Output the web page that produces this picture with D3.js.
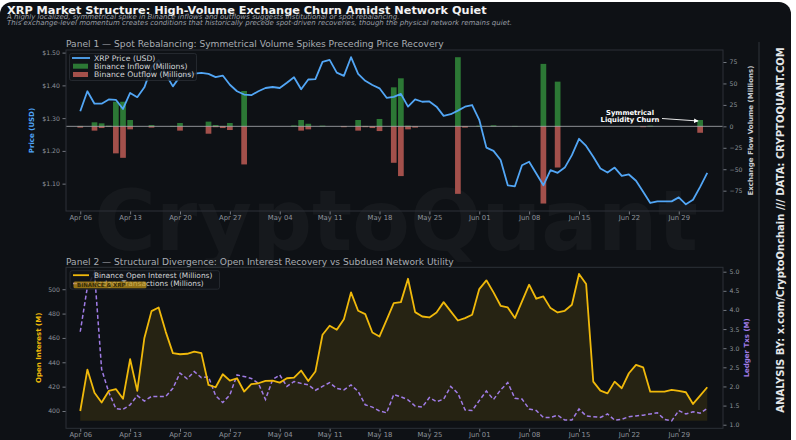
<!DOCTYPE html>
<head>
<meta charset="utf-8">
<style>
  body { margin: 0; background: #ffffff; }
  svg text { font-family: "DejaVu Sans", sans-serif; }
  svg .tick text { fill: #8d929a; font-size: 6.2px; }
  svg .x-axis .tick text { font-size: 6.8px; }
  svg .tick line { stroke: #8d929a; stroke-width: 0.8px; }
  svg .domain { display: none; }
  svg .spine { fill: none; stroke: #2c3138; stroke-width: 1px; }
</style>
</head>
<body>
<script src="https://d3js.org/d3.v7.min.js"></script>
<script>
// ---- data (daily, from Apr 06) ----
var startDay = "2025-04-06";

var price = [1.321, 1.382, 1.344, 1.344, 1.357, 1.356, 1.328, 1.377, 1.364, 1.394,
  1.455, 1.477, 1.434, 1.397, 1.427, 1.432, 1.436, 1.438, 1.435, 1.425,
  1.430, 1.402, 1.382, 1.372, 1.370, 1.382, 1.392, 1.395, 1.392, 1.408,
  1.425, 1.388, 1.418, 1.419, 1.472, 1.478, 1.439, 1.429, 1.486, 1.435,
  1.414, 1.401, 1.391, 1.362, 1.365, 1.374, 1.335, 1.357, 1.350, 1.351,
  1.335, 1.307, 1.312, 1.323, 1.335, 1.340, 1.295, 1.210, 1.200, 1.172,
  1.095, 1.092, 1.156, 1.167, 1.131, 1.095, 1.141, 1.133, 1.149, 1.187,
  1.237, 1.215, 1.182, 1.146, 1.134, 1.149, 1.124, 1.128, 1.109, 1.075,
  1.041, 1.046, 1.046, 1.046, 1.058, 1.037, 1.051, 1.090, 1.133];

var inflow = [0.5, 0, 4.7, 3.5, 0.8, 28.7, 28.7, 7.4, 0, 0,
  1.5, 0, 0, 0.5, 3.9, 0, 0, 0, 5.5, 1.5,
  0.5, 3.9, 0, 41.2, 0, 0, 0, 0, 0, 0,
  1, 7.4, 3, 0, 0.8, 0, 0, 0.3, 0, 7.4,
  0.5, 0.3, 8.6, 0, 45.5, 56, 0.8, 0.3, 0, 0,
  0, 0, 0, 80.6, 0.3, 0, 0.8, 0, 1.2, 0,
  0, 0.5, 0, 0, 0, 72.8, 0, 52.1, 0, 0,
  0, 0, 0, 0, 0, 0, 0, 0, 0, 0,
  0.8, 0, 0, 0, 0, 0, 0, 7.4, 0];

var outflow = [-1.5, 0, -5, -2, -0.5, -31.5, -36.7, -3.5, 0, 0,
  -1.5, 0, 0, 0, -5, 0, 0, 0, -8.6, -1,
  -2, -4.3, 0, -44.4, 0, 0, 0, 0, 0, 0,
  0, -5, -3.5, 0, 0, 0, 0, -1, 0, -5,
  -1, -2, -5.5, 0, -42.5, -58, -3.5, -1.5, 0, 0,
  0, 0, 0, -78.7, -1.5, 0, 0, 0, 0, 0,
  0, 0, 0, 0, 0, -90, 0, -48, 0, 0,
  0, 0, 0, 0, 0, 0, 0, 0, 0, -1,
  0, 0, 0, 0, 0, 0, 0, -7.5, 0];

var openInterest = [400, 434, 415, 407, 416.5, 418, 410, 442.5, 416.5, 460,
  482, 485, 465, 447.5, 446.6, 447, 448.8, 447.5, 421.4, 419.5,
  430.2, 425, 426.9, 416, 422, 422.8, 424.7, 425, 423.3, 426.9,
  427.4, 433.2, 424.7, 432.4, 462.6, 470, 466.7, 475.4, 497.4, 482.3,
  479.6, 464.5, 461.2, 474.9, 488.6, 489.4, 508.6, 481.2, 477.6, 476.8,
  480.9, 489.4, 481.8, 474.3, 476.3, 479, 500.1, 507.3, 497.4, 486.4,
  485, 476.3, 490, 503.7, 492.2, 494.1, 484.5, 480.9, 482.3, 487.2,
  512.5, 504.3, 424.1, 416.7, 414.5, 424.1, 418.7, 431, 437.9, 435.9,
  415.9, 415.9, 415.9, 417.3, 416.5, 415.4, 405.8, 412.6, 419.5];
var oiFloor = 392;

var ledgerTxs = [3.43, 4.60, 4.98, 2.45, 1.85, 1.42, 1.40, 1.52, 1.76, 1.62,
  1.74, 1.74, 1.74, 1.95, 2.35, 2.20, 2.39, 2.23, 2.25, 1.76,
  1.58, 1.78, 2.30, 2.26, 2.21, 2.08, 1.66, 2.18, 2.30, 2.00,
  2.13, 2.08, 2.04, 1.90, 2.00, 2.10, 1.95, 1.91, 2.04, 1.87,
  1.52, 1.46, 1.36, 1.31, 1.79, 1.73, 1.65, 1.49, 1.46, 1.71,
  1.60, 1.67, 2.00, 1.82, 1.39, 1.37, 1.63, 1.88, 1.66, 1.91,
  2.10, 1.69, 1.67, 1.41, 1.37, 1.19, 1.19, 1.25, 1.12, 1.12,
  1.41, 1.23, 1.21, 1.19, 1.28, 1.12, 1.14, 1.21, 1.23, 1.25,
  1.28, 1.31, 1.14, 1.10, 1.37, 1.28, 1.34, 1.30, 1.43];

var priceTicks = [1.10, 1.20, 1.30, 1.40, 1.50];
var flowTicks = [-75, -50, -25, 0, 25, 50, 75];
var oiTicks = [400, 420, 440, 460, 480, 500];
var txTicks = [1.0, 1.5, 2.0, 2.5, 3.0, 3.5, 4.0, 4.5, 5.0];

// ---- layout ----
var W = 796, H = 440;
var p1 = { left: 66, right: 723, top: 50, bottom: 211 };
var p2 = { left: 66, right: 723, top: 267.3, bottom: 428.3 };
var bg = "#0e1115";

var t0 = d3.utcParse("%Y-%m-%d")(startDay);
var days = price.map(function (d, i) { return d3.utcDay.offset(t0, i); });

var svg = d3.select("body").append("svg")
    .attr("width", W).attr("height", H);

svg.append("rect")
    .attr("x", 0).attr("y", 2).attr("width", 791).attr("height", 452)
    .attr("rx", 12).attr("fill", bg);

// watermark
svg.append("text")
    .attr("x", 396).attr("y", 250)
    .attr("text-anchor", "middle")
    .style("font-size", "84px").style("font-weight", "bold")
    .style("fill", "#ffffff").style("opacity", 0.03)
    .text("CryptoQuant");

// titles
svg.append("text").attr("x", 7).attr("y", 13.8)
    .style("font-size", "11.3px").style("font-weight", "bold").style("fill", "#f2f2f2")
    .text("XRP Market Structure: High-Volume Exchange Churn Amidst Network Quiet");
svg.append("text").attr("x", 7).attr("y", 19.2)
    .style("font-size", "7px").style("font-style", "italic").style("fill", "#9a9fa6")
    .text("A highly localized, symmetrical spike in Binance inflows and outflows suggests institutional or spot rebalancing.");
svg.append("text").attr("x", 7).attr("y", 25)
    .style("font-size", "7px").style("font-style", "italic").style("fill", "#9a9fa6")
    .text("This exchange-level momentum creates conditions that historically precede spot-driven recoveries, though the physical network remains quiet.");

// shared x scales
function makeX(p) {
  return d3.scaleUtc()
    .domain([d3.utcHour.offset(t0, -48), d3.utcHour.offset(t0, Math.round(90.2 * 24))])
    .range([p.left, p.right]);
}
var x1 = makeX(p1), x2 = makeX(p2);
var weekTicks = d3.utcSunday.range(t0, d3.utcDay.offset(t0, 89));
var dayW = x1(days[1]) - x1(days[0]);

// ================= Panel 1 =================
var yPrice = d3.scaleLinear().domain([1.0165, 1.508]).range([p1.bottom, p1.top]);
var yFlow = d3.scaleLinear().domain([-98.7, 89]).range([p1.bottom, p1.top]);

svg.append("text").attr("x", p1.left).attr("y", 47)
    .style("font-size", "9.1px").style("fill", "#a9adb3")
    .text("Panel 1 \u2014 Spot Rebalancing: Symmetrical Volume Spikes Preceding Price Recovery");

// bars
var g1 = svg.append("g");
g1.selectAll("rect.in").data(inflow).enter().append("rect")
    .attr("x", function (d, i) { return x1(days[i]) - dayW * 0.4; })
    .attr("width", dayW * 0.8)
    .attr("y", function (d) { return yFlow(d); })
    .attr("height", function (d) { return yFlow(0) - yFlow(d); })
    .attr("fill", "#2c7835");
g1.selectAll("rect.out").data(outflow).enter().append("rect")
    .attr("x", function (d, i) { return x1(days[i]) - dayW * 0.4; })
    .attr("width", dayW * 0.8)
    .attr("y", yFlow(0))
    .attr("height", function (d) { return yFlow(d) - yFlow(0); })
    .attr("fill", "#a3504b");

// zero line
g1.append("line")
    .attr("x1", p1.left).attr("x2", p1.right)
    .attr("y1", yFlow(0)).attr("y2", yFlow(0))
    .attr("stroke", "#b9bcc0").attr("stroke-width", 1).attr("opacity", 0.75);

// price line
var priceLine = d3.line()
    .x(function (d, i) { return x1(days[i]); })
    .y(function (d) { return yPrice(d); });
g1.append("path")
    .attr("d", priceLine(price))
    .attr("fill", "none").attr("stroke", "#52a6f5").attr("stroke-width", 1.8)
    .attr("stroke-linejoin", "round");

// axes
svg.append("g").attr("transform", "translate(" + p1.left + ",0)")
    .call(d3.axisLeft(yPrice).tickValues(priceTicks).tickSize(3.5).tickPadding(2.5)
      .tickFormat(function (d) { return "$" + d.toFixed(2); }));
svg.append("g").attr("transform", "translate(" + p1.right + ",0)")
    .call(d3.axisRight(yFlow).tickValues(flowTicks).tickSize(3.5).tickPadding(3)
      .tickFormat(function (d) { return d < 0 ? "\u2212" + Math.abs(d) : d; }));
svg.append("g").classed("x-axis", true).attr("transform", "translate(0," + p1.bottom + ")")
    .call(d3.axisBottom(x1).tickValues(weekTicks).tickSize(3.5).tickPadding(1)
      .tickFormat(d3.utcFormat("%b %d")));

svg.append("rect").classed("spine", true)
    .attr("x", p1.left).attr("y", p1.top)
    .attr("width", p1.right - p1.left).attr("height", p1.bottom - p1.top);

svg.append("text")
    .attr("transform", "translate(34," + (p1.top + p1.bottom) / 2 + ") rotate(-90)")
    .attr("text-anchor", "middle")
    .style("font-size", "7px").style("font-weight", "bold").style("fill", "#4fa3f7")
    .text("Price (USD)");
svg.append("text")
    .attr("transform", "translate(753," + (p1.top + p1.bottom) / 2 + ") rotate(-90)")
    .attr("text-anchor", "middle")
    .style("font-size", "7px").style("font-weight", "bold").style("fill", "#c9ccd0")
    .text("Exchange Flow Volume (Millions)");

// annotation
var churnDay = 87;
var ann = svg.append("g");
ann.append("text").attr("x", 630).attr("y", 115)
    .attr("text-anchor", "middle")
    .style("font-size", "6.8px").style("font-weight", "bold").style("fill", "#ffffff")
    .text("Symmetrical");
ann.append("text").attr("x", 630).attr("y", 122)
    .attr("text-anchor", "middle")
    .style("font-size", "6.8px").style("font-weight", "bold").style("fill", "#ffffff")
    .text("Liquidity Churn");
svg.append("defs").append("marker")
    .attr("id", "arr").attr("viewBox", "0 0 10 10")
    .attr("refX", 9).attr("refY", 5)
    .attr("markerWidth", 5).attr("markerHeight", 5)
    .attr("orient", "auto")
  .append("path").attr("d", "M0,0L10,5L0,10Z").attr("fill", "#ffffff");
ann.append("line")
    .attr("x1", 662).attr("y1", 118.5)
    .attr("x2", x1(days[churnDay]) - 2).attr("y2", yFlow(inflow[churnDay]) + 1)
    .attr("stroke", "#ffffff").attr("stroke-width", 0.9)
    .attr("marker-end", "url(#arr)");

// legend 1
var lg1 = svg.append("g").attr("transform", "translate(69.5,53.5)");
lg1.append("rect").attr("width", 127).attr("height", 27).attr("rx", 2)
    .attr("fill", "#111419").attr("opacity", 0.85).attr("stroke", "#343941").attr("stroke-width", 0.7);
lg1.append("line").attr("x1", 2.5).attr("x2", 20.5).attr("y1", 4.5).attr("y2", 4.5)
    .attr("stroke", "#52a6f5").attr("stroke-width", 1.8);
lg1.append("rect").attr("x", 3.5).attr("y", 10.2).attr("width", 15).attr("height", 5).attr("fill", "#2c7835");
lg1.append("rect").attr("x", 3.5).attr("y", 18.5).attr("width", 15).attr("height", 5).attr("fill", "#a3504b");
["XRP Price (USD)", "Binance Inflow (Millions)", "Binance Outflow (Millions)"].forEach(function (t, i) {
  lg1.append("text").attr("x", 24.5).attr("y", 7 + i * 8.3)
    .style("font-size", "7.7px").style("fill", "#d4d6d9").text(t);
});

// ================= Panel 2 =================
var yOI = d3.scaleLinear().domain([385.8, 518]).range([p2.bottom, p2.top]);
var yTx = d3.scaleLinear().domain([0.906, 5.115]).range([p2.bottom, p2.top]);

svg.append("text").attr("x", p2.left).attr("y", 264.5)
    .style("font-size", "9.1px").style("fill", "#a9adb3")
    .text("Panel 2 \u2014 Structural Divergence: Open Interest Recovery vs Subdued Network Utility");

var g2 = svg.append("g");
var oiArea = d3.area()
    .x(function (d, i) { return x2(days[i]); })
    .y0(yOI(oiFloor))
    .y1(function (d) { return yOI(d); });
g2.append("path").attr("d", oiArea(openInterest))
    .attr("fill", "#f0b90b").attr("opacity", 0.11);

var txLine = d3.line()
    .x(function (d, i) { return x2(days[i]); })
    .y(function (d) { return yTx(d); });
g2.append("path").attr("d", txLine(ledgerTxs))
    .attr("fill", "none").attr("stroke", "#a07ce6").attr("stroke-width", 1.5)
    .attr("stroke-dasharray", "4,2.5");

var oiLine = d3.line()
    .x(function (d, i) { return x2(days[i]); })
    .y(function (d) { return yOI(d); });
g2.append("path").attr("d", oiLine(openInterest))
    .attr("fill", "none").attr("stroke", "#f0b90b").attr("stroke-width", 1.8)
    .attr("stroke-linejoin", "round");

svg.append("g").attr("transform", "translate(" + p2.left + ",0)")
    .call(d3.axisLeft(yOI).tickValues(oiTicks).tickSize(3.5).tickPadding(2.5));
svg.append("g").attr("transform", "translate(" + p2.right + ",0)")
    .call(d3.axisRight(yTx).tickValues(txTicks).tickSize(3.5).tickPadding(3)
      .tickFormat(d3.format(".1f")));
svg.append("g").classed("x-axis", true).attr("transform", "translate(0," + p2.bottom + ")")
    .call(d3.axisBottom(x2).tickValues(weekTicks).tickSize(3.5).tickPadding(0.5)
      .tickFormat(d3.utcFormat("%b %d")));

svg.append("rect").classed("spine", true)
    .attr("x", p2.left).attr("y", p2.top)
    .attr("width", p2.right - p2.left).attr("height", p2.bottom - p2.top);

svg.append("text")
    .attr("transform", "translate(41," + (p2.top + p2.bottom) / 2 + ") rotate(-90)")
    .attr("text-anchor", "middle")
    .style("font-size", "7px").style("font-weight", "bold").style("fill", "#f0b90b")
    .text("Open Interest (M)");
svg.append("text")
    .attr("transform", "translate(749," + (p2.top + p2.bottom) / 2 + ") rotate(-90)")
    .attr("text-anchor", "middle")
    .style("font-size", "7px").style("font-weight", "bold").style("fill", "#a07ce6")
    .text("Ledger Txs (M)");

// legend 2
var lg2 = svg.append("g").attr("transform", "translate(70,270.7)");
lg2.append("rect").attr("width", 149.5).attr("height", 18.5).attr("rx", 2)
    .attr("fill", "#111419").attr("opacity", 0.85).attr("stroke", "#343941").attr("stroke-width", 0.7);
lg2.append("line").attr("x1", 3).attr("x2", 19).attr("y1", 4.5).attr("y2", 4.5)
    .attr("stroke", "#f0b90b").attr("stroke-width", 1.8);
lg2.append("line").attr("x1", 3).attr("x2", 19).attr("y1", 12.8).attr("y2", 12.8)
    .attr("stroke", "#a07ce6").attr("stroke-width", 1.5).attr("stroke-dasharray", "4,2.5");
["Binance Open Interest (Millions)", "Ledger Transactions (Millions)"].forEach(function (t, i) {
  lg2.append("text").attr("x", 24).attr("y", 7 + i * 8.3)
    .style("font-size", "7.4px").style("fill", "#d4d6d9").text(t);
});
lg2.append("rect").attr("x", 3.5).attr("y", 10.8).attr("width", 73).attr("height", 6.8).attr("rx", 1.5)
    .attr("fill", "#c99a16").attr("opacity", 0.7);
lg2.append("text").attr("x", 7).attr("y", 16).style("font-size", "5.5px").style("font-weight", "bold")
    .style("fill", "#3a2f08").text("BINANCE & XRP");

// side credit
svg.append("line").attr("x1", 759).attr("x2", 759).attr("y1", 42).attr("y2", 410)
    .attr("stroke", "#2f343b").attr("stroke-width", 1);
svg.append("text")
    .attr("transform", "translate(784,230) rotate(-90)")
    .attr("text-anchor", "middle")
    .style("font-size", "10px").style("font-weight", "bold").style("fill", "#e4e6e8")
    .text("ANALYSIS BY: x.com/CryptoOnchain   ///   DATA: CRYPTOQUANT.COM");
</script>
</body>
</html>
